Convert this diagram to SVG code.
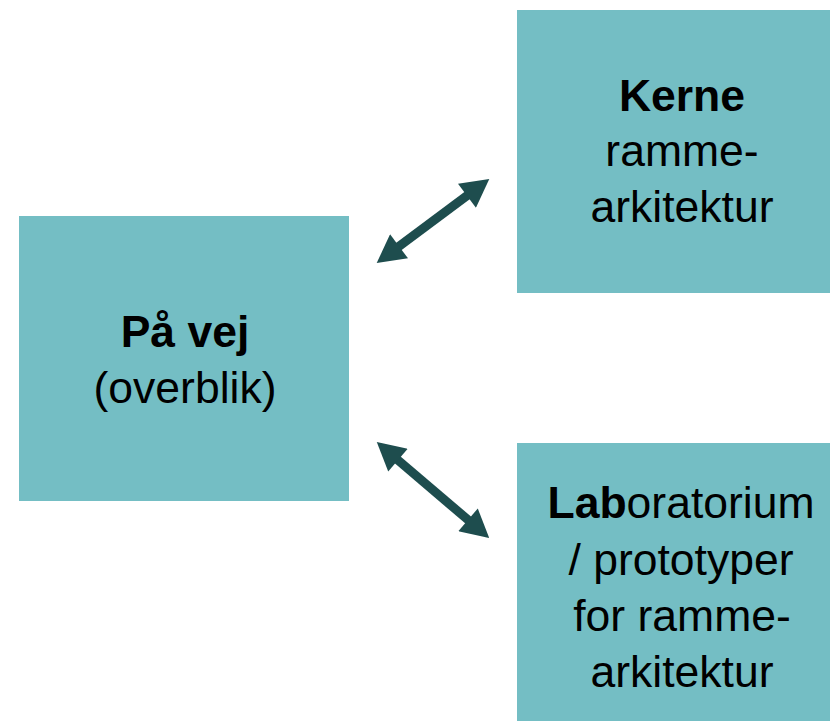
<svg xmlns="http://www.w3.org/2000/svg" width="830" height="721" viewBox="0 0 830 721">
<defs>
<style>
.box{fill:#74BEC4;}
.t{font-family:"Liberation Sans",Arial,sans-serif;font-size:44.5px;fill:#000;text-anchor:middle;}
.b{font-weight:bold;}
.conn{stroke:#1E4D4E;stroke-width:9;fill:none;}
</style>
<marker id="ah" markerUnits="userSpaceOnUse" markerWidth="30" markerHeight="30" viewBox="0 0 26 28" refX="4" refY="14" orient="auto-start-reverse">
<path d="M0,0 L26,14 L0,28 z" fill="#1E4D4E"/>
</marker>
</defs>
<rect width="830" height="721" fill="#fff"/>
<g id="connectors">
<line class="conn" x1="395.6" y1="248.9" x2="470.4" y2="193.1" marker-start="url(#ah)" marker-end="url(#ah)"/>
<line class="conn" x1="394.7" y1="457.3" x2="471.3" y2="522.7" marker-start="url(#ah)" marker-end="url(#ah)"/>
</g>
<g id="node-paa-vej">
<rect class="box" x="19" y="216" width="330" height="285"/>
<text class="t b" x="185" y="347">På vej</text>
<text class="t" x="185" y="403">(overblik)</text>
</g>
<g id="node-kerne">
<rect class="box" x="517" y="10" width="313" height="283"/>
<text class="t b" x="682" y="111">Kerne</text>
<text class="t" x="682" y="166">ramme-</text>
<text class="t" x="682" y="222">arkitektur</text>
</g>
<g id="node-lab">
<rect class="box" x="517" y="443" width="313" height="278"/>
<text class="t" x="681" y="518"><tspan class="b">Lab</tspan>oratorium</text>
<text class="t" x="681" y="575">/ prototyper</text>
<text class="t" x="682" y="631">for ramme-</text>
<text class="t" x="682" y="687">arkitektur</text>
</g>
</svg>
